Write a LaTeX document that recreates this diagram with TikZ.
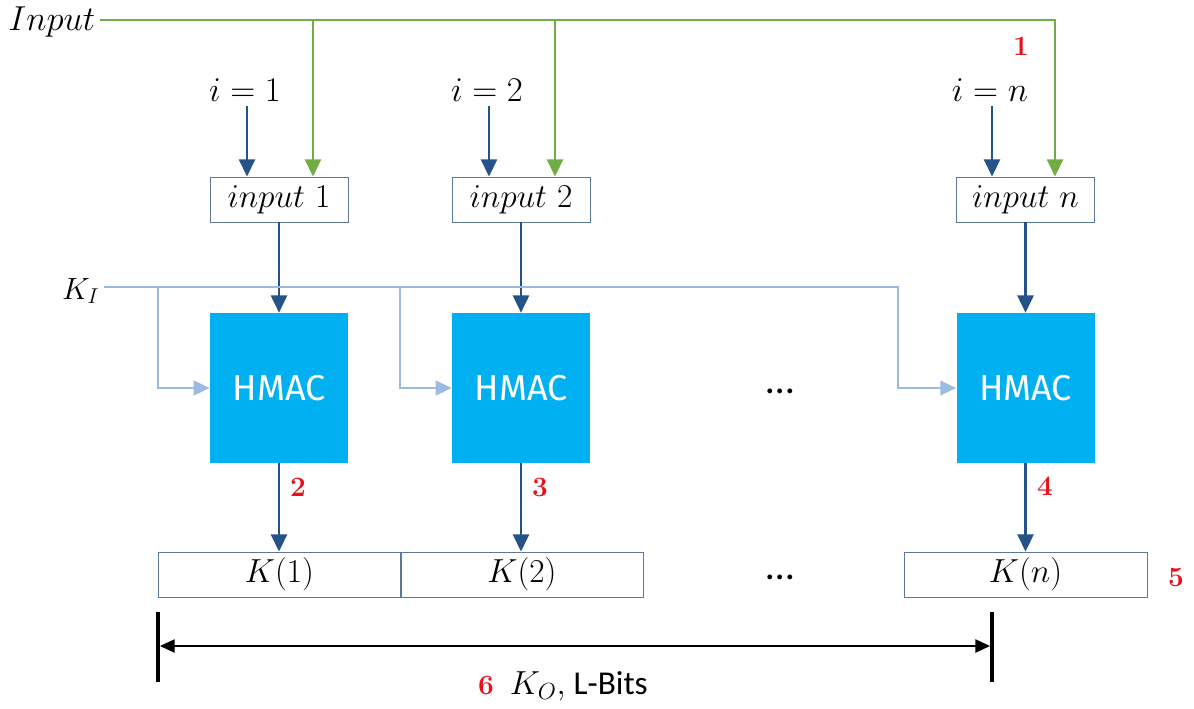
\documentclass[tikz,border=0pt]{standalone}
\usepackage{fix-cm}
\usepackage{fontspec}
\setsansfont{Carlito}
\newfontfamily\hmacfont{Fira Sans}
\usetikzlibrary{arrows.meta, positioning, calc}
\definecolor{ingreen}{HTML}{70AD47}
\definecolor{arrblue}{HTML}{245289}
\definecolor{hmacblue}{HTML}{00B0F0}
\definecolor{keyblue}{HTML}{9DBBE0}
\definecolor{boxline}{HTML}{5B7A99}
\definecolor{numred}{HTML}{E8101A}

\begin{document}
\begin{tikzpicture}[x=0.75pt, y=-0.75pt,
    inbox/.style={draw=boxline, line width=0.6pt, minimum width=103.5pt, minimum height=33.75pt, inner sep=0pt, font=\fontsize{25}{30}\selectfont},
    hmacbox/.style={fill=hmacblue, minimum width=103.5pt, minimum height=112.5pt, inner sep=0pt, text=white, font=\hmacfont\fontsize{27}{32}\selectfont},
    kbox/.style={draw=boxline, line width=0.6pt, minimum width=182.25pt, minimum height=33.75pt, inner sep=0pt, font=\fontsize{25}{30}\selectfont},
    lbl/.style={font=\fontsize{26}{30}\selectfont},
    num/.style={text=numred, font=\fontsize{21}{25}\selectfont\bfseries},
    flow/.style={draw=arrblue, line width=2pt, -{Triangle[length=13pt,width=12pt]}},
    inflow/.style={draw=ingreen, line width=2pt, -{Triangle[length=13pt,width=12pt]}},
    keyflow/.style={draw=keyblue, line width=1.6pt, -{Triangle[length=12pt,width=11pt]}},
    dimline/.style={draw=black, line width=1pt, {Triangle[length=11pt,width=10pt]}-{Triangle[length=11pt,width=10pt]}, shorten <=1.5pt, shorten >=1.5pt},
    bar/.style={draw=black, line width=3pt},
    dots/.style={font=\sffamily\fontsize{30}{34}\selectfont}
]
\useasboundingbox (0,0) rectangle (1194,708);

\node[lbl, anchor=east] (inp) at (100,22) {$Input$};
\node[font=\fontsize{23}{27}\selectfont, anchor=east] (ki) at (104,291) {$K_I$};

\node[lbl] (ii1) at (245,90) {$i=1$};
\node[lbl] (ii2) at (487,90) {$i=2$};
\node[lbl] (iin) at (990,90) {$i=n$};

\node[inbox] (in1) at (279,199.5) {$input\ 1$};
\node[inbox] (in2) at (521,199.5) {$input\ 2$};
\node[inbox] (inn) at (1025.5,199.5) {$input\ n$};

\node[hmacbox] (h1) at (279,388) {HMAC};
\node[hmacbox] (h2) at (521,388) {HMAC};
\node[hmacbox] (hn) at (1025.5,388) {HMAC};

\node[kbox] (k1) at (279.5,574.5) {$K(1)$};
\node[kbox] (k2) at (522,574.5) {$K(2)$};
\node[kbox] (kn) at (1025.5,574.5) {$K(n)$};

\node[dots] (d1) at (780,391) {\ldots};
\node[dots] (d2) at (780,577) {\ldots};

\node[num] (n1) at (1021,46) {1};
\node[num] (n2) at (298,487) {2};
\node[num] (n3) at (540,487) {3};
\node[num] (n4) at (1045,486) {4};
\node[num] (n5) at (1176,577) {5};

% input line
\coordinate (g1) at (313,20);
\coordinate (g2) at (555,20);
\coordinate (gn) at (1055,20);
\draw[inflow] (inp.east |- g1) -| (gn |- inn.north);
\draw[inflow] (g1) -- (g1 |- in1.north);
\draw[inflow] (g2) -- (g2 |- in2.north);

\draw[flow] (ii1.south -| 247,0) -- (247,0 |- in1.north);
\draw[flow] (ii2.south -| 489,0) -- (489,0 |- in2.north);
\draw[flow] (iin.south -| 992,0) -- (992,0 |- inn.north);

\draw[flow] (in1) -- (h1);
\draw[flow] (in2) -- (h2);
\draw[flow] (inn) -- (hn);

% key line
\coordinate (kb1) at (158,287);
\coordinate (kb2) at (400,287);
\coordinate (kbn) at (898,287);
\draw[keyflow] (ki.east |- kb1) -- (kbn) |- (hn.west);
\draw[keyflow] (kb1) |- (h1.west);
\draw[keyflow] (kb2) |- (h2.west);

\draw[flow] (h1.south) -- (h1.south |- k1.north);
\draw[flow] (h2.south) -- (h2.south |- k2.north);
\draw[flow] (hn.south) -- (hn.south |- kn.north);

% output length
\coordinate (b1) at (158,646);
\coordinate (b2) at (992,646);
\draw[dimline] (b1) -- (b2);
\draw[bar] (b1) ++(0,-34) -- ++(0,70);
\draw[bar] (b2) ++(0,-34) -- ++(0,70);
\node[font=\fontsize{25}{30}\selectfont] (ko) at (563,686) {{\color{numred}\bfseries\fontsize{21}{25}\selectfont 6}\hspace{12pt}$K_O,$\hspace{6pt}{\sffamily L-Bits}};
\end{tikzpicture}
\end{document}
